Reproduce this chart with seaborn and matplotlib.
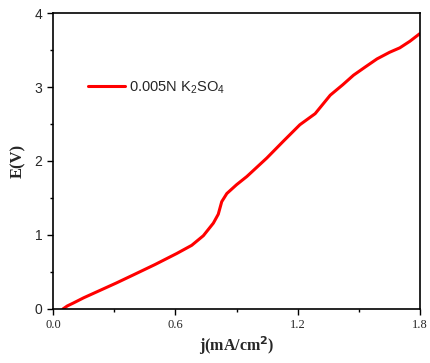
import matplotlib
matplotlib.use("Agg")
import matplotlib.pyplot as plt
from matplotlib.ticker import MultipleLocator
import seaborn as sns
import pandas as pd

# current density (mA/cm2) and potential (V)
j = [0.049, 0.07, 0.10, 0.15, 0.23, 0.31, 0.394, 0.50, 0.607, 0.68, 0.737,
     0.786, 0.81, 0.827, 0.852, 0.90, 0.95, 1.048, 1.13, 1.21, 1.285,
     1.359, 1.42, 1.473, 1.53, 1.588, 1.65, 1.70, 1.75, 1.797]
E = [0.0, 0.04, 0.08, 0.15, 0.25, 0.35, 0.46, 0.60, 0.75, 0.86, 0.99,
     1.16, 1.28, 1.45, 1.56, 1.68, 1.79, 2.04, 2.27, 2.49, 2.64,
     2.89, 3.03, 3.16, 3.27, 3.38, 3.47, 3.53, 3.62, 3.72]
label = "0.005N K$_2$SO$_4$"

df = pd.DataFrame({"j": j, "E": E})

sns.set_style("ticks")
plt.rcParams["font.family"] = ["Liberation Sans", "DejaVu Sans"]
plt.rcParams["mathtext.fontset"] = "custom"
plt.rcParams["mathtext.rm"] = "Liberation Sans"

fig = plt.figure(figsize=(4.31, 3.63), dpi=100)
ax = fig.add_axes([0.123, 0.149, 0.852, 0.815])

sns.lineplot(data=df, x="j", y="E", ax=ax, color="#ff0000", linewidth=2.2,
             label=label)

ax.set_xlim(0, 1.8)
ax.set_ylim(0, 4)
ax.xaxis.set_major_locator(MultipleLocator(0.6))
ax.xaxis.set_minor_locator(MultipleLocator(0.3))
ax.yaxis.set_major_locator(MultipleLocator(1))
ax.yaxis.set_minor_locator(MultipleLocator(0.5))
ax.set_xticks([0, 0.6, 1.2, 1.8])
ax.set_xticklabels(["0.0", "0.6", "1.2", "1.8"], family="Liberation Serif",
                   fontsize=9)
ax.tick_params(axis="y", labelsize=10)
ax.tick_params(which="major", length=4, width=1, direction="out", color="black")
ax.tick_params(which="minor", length=2.5, width=1, direction="out", color="black")
for s in ax.spines.values():
    s.set_linewidth(1.2)
    s.set_color("black")

ax.set_xlabel("j(mA/cm$^{\\mathbf{2}}$)", family="Liberation Serif",
              fontweight="bold", fontsize=11.5, labelpad=2)
ax.set_ylabel("E(V)", family="Liberation Serif", fontweight="bold",
              fontsize=12, labelpad=6)

ax.legend(loc="upper left", bbox_to_anchor=(0.06, 0.82), frameon=False,
          fontsize=10.5, handlelength=2.5, handletextpad=0.3)

fig.savefig("out.png", dpi=100)
